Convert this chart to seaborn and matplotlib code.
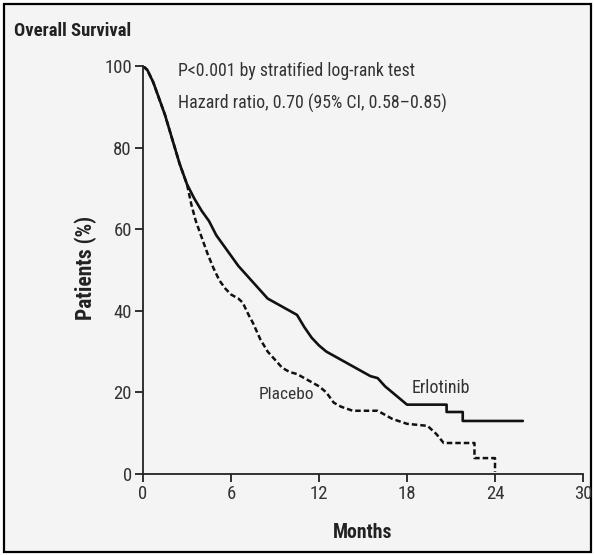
import matplotlib
matplotlib.use("Agg")
import matplotlib.pyplot as plt
import seaborn as sns
import pandas as pd
from matplotlib.patches import Rectangle

# ---- data ----
erl_months = [0, 0.3, 0.7, 1.0, 1.5, 2.0, 2.5, 3.0, 3.5, 4.0, 4.5, 5.0, 5.5, 6.0,
              6.5, 7.0, 7.5, 8.0, 8.5, 9.0, 9.5, 10.0, 10.5, 11.0, 11.5, 12.0,
              12.5, 13.0, 13.5, 14.0, 14.5, 15.0, 15.5, 16.0, 16.5, 17.0, 17.5,
              18.0, 20.7, 20.7, 21.8, 21.8, 25.9]
erl_surv = [100, 99, 96, 93, 88, 82, 76, 71, 67.5, 64.5, 62, 58.5, 56, 53.5,
            51, 49, 47, 45, 43, 42, 41, 40, 39, 36, 33.4, 31.5,
            30, 29, 28, 27, 26, 25, 24, 23.5, 21.5, 20, 18.5,
            17, 17, 15.2, 15.2, 13, 13]

pla_months = [0, 0.3, 0.7, 1.0, 1.5, 2.0, 2.5, 3.0, 3.3, 3.6, 4.0, 4.4, 4.8, 5.2,
              5.6, 6.0, 6.5, 6.8, 7.2, 7.5, 8.0, 8.5, 9.0, 9.5, 10.0, 10.5, 11.0,
              11.5, 12.0, 12.5, 13.0, 13.5, 14.3, 16.0, 16.5, 17.0, 18.0, 19.4,
              20.0, 20.5, 22.6, 22.6, 24.0, 24.0]
pla_surv = [100, 99, 96, 93, 88, 82, 76, 71, 66, 62, 58, 54, 50.5, 47.5,
            45.5, 44, 43, 42, 39, 37, 33, 30, 28, 26, 25, 24.5, 23.5,
            22.5, 21.5, 20, 17.5, 16.5, 15.5, 15.5, 14.5, 13.5, 12.3, 11.8,
            9.8, 7.6, 7.6, 3.9, 3.9, 0.5]

x_ticks = [0, 6, 12, 18, 24, 30]
y_ticks = [0, 20, 40, 60, 80, 100]

title_text = "Overall Survival"
stat_lines = ["P<0.001 by stratified log-rank test",
              "Hazard ratio, 0.70 (95% CI, 0.58\u20130.85)"]
x_label = "Months"
y_label = "Patients (%)"
erl_label = "Erlotinib"
pla_label = "Placebo"

# ---- style ----
sns.set_style("ticks")
FAM = ["DejaVu Sans Condensed", "Roboto Condensed", "Liberation Sans"]
plt.rcParams["font.family"] = FAM
plt.rcParams["font.stretch"] = "condensed"
BG = "#f4f4f4"
INK = "#222222"

fig = plt.figure(figsize=(5.94, 5.55), dpi=100)
fig.patch.set_facecolor("white")
fig.patches.append(Rectangle((0.007, 0.006), 0.988, 0.986, transform=fig.transFigure,
                             facecolor=BG, edgecolor="black", linewidth=1.6, zorder=-10))

ax = fig.add_axes([143 / 594, 1 - 474 / 555, 440 / 594, 408 / 555])
ax.set_facecolor("none")

erl_df = pd.DataFrame({"Months": erl_months, "Survival": erl_surv})
pla_df = pd.DataFrame({"Months": pla_months, "Survival": pla_surv})

sns.lineplot(data=pla_df, x="Months", y="Survival", ax=ax, sort=False,
             estimator=None, color="#111111", linewidth=1.8,
             linestyle=(0, (2.2, 1.2)))
sns.lineplot(data=erl_df, x="Months", y="Survival", ax=ax, sort=False,
             estimator=None, color="#111111", linewidth=1.9)

ax.set_xlim(0, 30)
ax.set_ylim(0, 100)
ax.set_xticks(x_ticks)
ax.set_yticks(y_ticks)
ax.set_xticklabels([str(t) for t in x_ticks])
ax.set_yticklabels([str(t) for t in y_ticks])
sns.despine(ax=ax)
for s in ["left", "bottom"]:
    ax.spines[s].set_linewidth(1.3)
    ax.spines[s].set_color(INK)
ax.tick_params(axis="both", direction="out", length=6, width=1.3, color=INK,
               labelsize=13.5, labelcolor="#333333", pad=2)
ax.set_xlabel("")
ax.set_ylabel("")

fig.text(363 / 594, 1 - 533 / 555, x_label, ha="center", va="center",
         fontsize=14.2, fontweight="bold", color=INK, family=FAM)
fig.text(86 / 594, 1 - 268 / 555, y_label, ha="center", va="center",
         rotation=90, fontsize=15.5, fontweight="bold", color=INK, family=FAM)
fig.text(14 / 594, 1 - 31 / 555, title_text, ha="left", va="center",
         fontsize=13.4, fontweight="bold", color=INK, family=FAM)

ax.text(2.4, 98.8, stat_lines[0], ha="left", va="center", fontsize=12.8,
        color="#333333", family=FAM)
ax.text(2.4, 90.9, stat_lines[1], ha="left", va="center", fontsize=12.9,
        color="#333333", family=FAM)
ax.text(9.78, 19.4, pla_label, ha="center", va="center", fontsize=12.5,
        color="#333333", family=FAM)
ax.text(20.3, 21.1, erl_label, ha="center", va="center", fontsize=13,
        color="#333333", family=FAM)

fig.savefig("out.png", dpi=100, facecolor=fig.get_facecolor())
